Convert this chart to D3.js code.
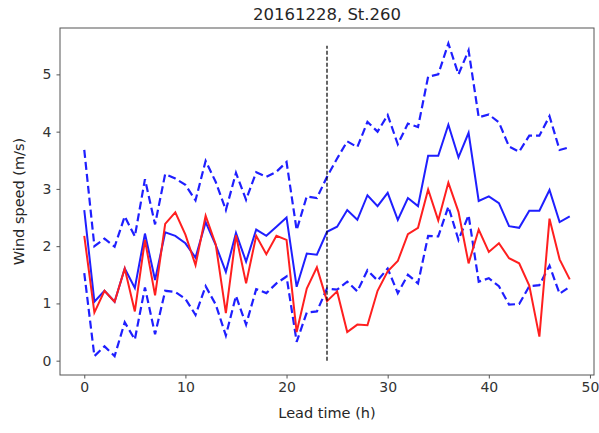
<!DOCTYPE html>
<html>
<head>
<meta charset="utf-8">
<script src="https://cdn.jsdelivr.net/npm/d3@7"></script>
<style>
    body { margin: 0; background: #fff; }
    text { font-family: "DejaVu Sans", sans-serif; fill: #262626; }
</style>
</head>
<body>
<div id="chart"></div>
<script>
// --- Data ---
const leadTime = d3.range(0, 49);

const upperBound = [3.68, 2.0, 2.13, 1.99, 2.52, 2.17, 3.17, 2.38, 3.26, 3.18,
    3.07, 2.8, 3.49, 3.12, 2.63, 3.28, 2.81, 3.29, 3.21, 3.3,
    3.47, 2.28, 2.87, 2.84, 3.21, 3.53, 3.83, 3.73, 4.17, 4.0,
    4.29, 3.78, 4.14, 4.08, 4.96, 5.0, 5.54, 5.0, 5.42, 4.25,
    4.3, 4.16, 3.74, 3.65, 3.93, 3.93, 4.27, 3.68, 3.73];

const meanForecast = [2.63, 1.03, 1.22, 1.03, 1.61, 1.27, 2.22, 1.41, 2.24, 2.18,
    2.05, 1.8, 2.42, 2.02, 1.55, 2.23, 1.73, 2.29, 2.18, 2.34,
    2.5, 1.29, 1.87, 1.85, 2.25, 2.34, 2.63, 2.46, 2.89, 2.7,
    2.93, 2.46, 2.84, 2.7, 3.58, 3.58, 4.12, 3.55, 3.98, 2.79,
    2.87, 2.75, 2.35, 2.32, 2.62, 2.62, 2.98, 2.42, 2.52];

const observed = [2.18, 0.84, 1.22, 1.03, 1.61, 0.86, 2.11, 1.14, 2.39, 2.59,
    2.2, 1.67, 2.53, 2.03, 0.83, 2.19, 1.35, 2.18, 1.86, 2.18,
    2.11, 0.5, 1.26, 1.63, 1.04, 1.21, 0.5, 0.63, 0.62, 1.22,
    1.56, 1.74, 2.21, 2.32, 2.99, 2.45, 3.11, 2.6, 1.7, 2.29,
    1.9, 2.05, 1.79, 1.7, 1.31, 0.42, 2.48, 1.77, 1.42];

const lowerBound = [1.53, 0.08, 0.25, 0.08, 0.67, 0.37, 1.28, 0.46, 1.22, 1.2,
    1.08, 0.8, 1.3, 0.98, 0.44, 1.13, 0.63, 1.25, 1.18, 1.35,
    1.47, 0.33, 0.84, 0.86, 1.26, 1.24, 1.38, 1.21, 1.58, 1.4,
    1.61, 1.18, 1.5, 1.35, 2.18, 2.17, 2.69, 2.11, 2.54, 1.38,
    1.44, 1.3, 0.98, 0.99, 1.3, 1.32, 1.66, 1.17, 1.29];

const xTicks = [0, 10, 20, 30, 40, 50];
const yTicks = [0, 1, 2, 3, 4, 5];
const markerTime = 24;
const markerRange = [0, 5.5];

// --- Layout ---
const width = 599;
const height = 433;
const margin = { top: 28, right: 5, bottom: 58, left: 60 };

const svg = d3.select("#chart").append("svg")
    .attr("width", width)
    .attr("height", height);

const x = d3.scaleLinear().domain([-2.4, 50.4]).range([margin.left, width - margin.right]);
const y = d3.scaleLinear().domain([-0.25, 5.81]).range([height - margin.bottom, margin.top]);

// --- Axes ---
const xAxis = svg.append("g")
    .attr("transform", `translate(0,${height - margin.bottom})`)
    .call(d3.axisBottom(x).tickValues(xTicks).tickFormat(d3.format("d"))
        .tickSize(3.5).tickPadding(4).tickSizeOuter(0));

const yAxis = svg.append("g")
    .attr("transform", `translate(${margin.left},0)`)
    .call(d3.axisLeft(y).tickValues(yTicks).tickFormat(d3.format("d"))
        .tickSize(3.5).tickPadding(5).tickSizeOuter(0));

[xAxis, yAxis].forEach(ax => {
    ax.select(".domain").remove();
    ax.selectAll(".tick line").attr("stroke", "#555");
    ax.selectAll(".tick text")
        .style("font-size", "14px")
        .style("fill", "#333");
});

// frame
svg.append("rect")
    .attr("x", margin.left)
    .attr("y", margin.top)
    .attr("width", width - margin.left - margin.right)
    .attr("height", height - margin.top - margin.bottom)
    .attr("fill", "none")
    .attr("stroke", "#555")
    .attr("stroke-width", 1);

// --- Lines ---
const line = d3.line()
    .x((d, i) => x(leadTime[i]))
    .y(d => y(d));

const g = svg.append("g");

g.append("path").datum(upperBound)
    .attr("d", line)
    .attr("fill", "none")
    .attr("stroke", "#1f1fff")
    .attr("stroke-width", 2.2)
    .attr("stroke-dasharray", "8,4");

g.append("path").datum(lowerBound)
    .attr("d", line)
    .attr("fill", "none")
    .attr("stroke", "#1f1fff")
    .attr("stroke-width", 2.2)
    .attr("stroke-dasharray", "8,4");

g.append("path").datum(meanForecast)
    .attr("d", line)
    .attr("fill", "none")
    .attr("stroke", "#1f1fff")
    .attr("stroke-width", 2);

g.append("path").datum(observed)
    .attr("d", line)
    .attr("fill", "none")
    .attr("stroke", "#ff1f1f")
    .attr("stroke-width", 2);

// vertical marker at day boundary
g.append("line")
    .attr("x1", x(markerTime))
    .attr("x2", x(markerTime))
    .attr("y1", y(markerRange[0]))
    .attr("y2", y(markerRange[1]))
    .attr("stroke", "#000")
    .attr("stroke-width", 1.2)
    .attr("stroke-dasharray", "4,2");

// --- Labels ---
svg.append("text")
    .attr("x", (margin.left + width - margin.right) / 2)
    .attr("y", 20)
    .attr("text-anchor", "middle")
    .style("font-size", "16.5px")
    .text("20161228, St.260");

svg.append("text")
    .attr("x", (margin.left + width - margin.right) / 2)
    .attr("y", 418)
    .attr("text-anchor", "middle")
    .style("font-size", "14.5px")
    .text("Lead time (h)");

svg.append("text")
    .attr("transform", `translate(24,${(margin.top + height - margin.bottom) / 2}) rotate(-90)`)
    .attr("text-anchor", "middle")
    .style("font-size", "14.5px")
    .text("Wind speed (m/s)");
</script>
</body>
</html>
